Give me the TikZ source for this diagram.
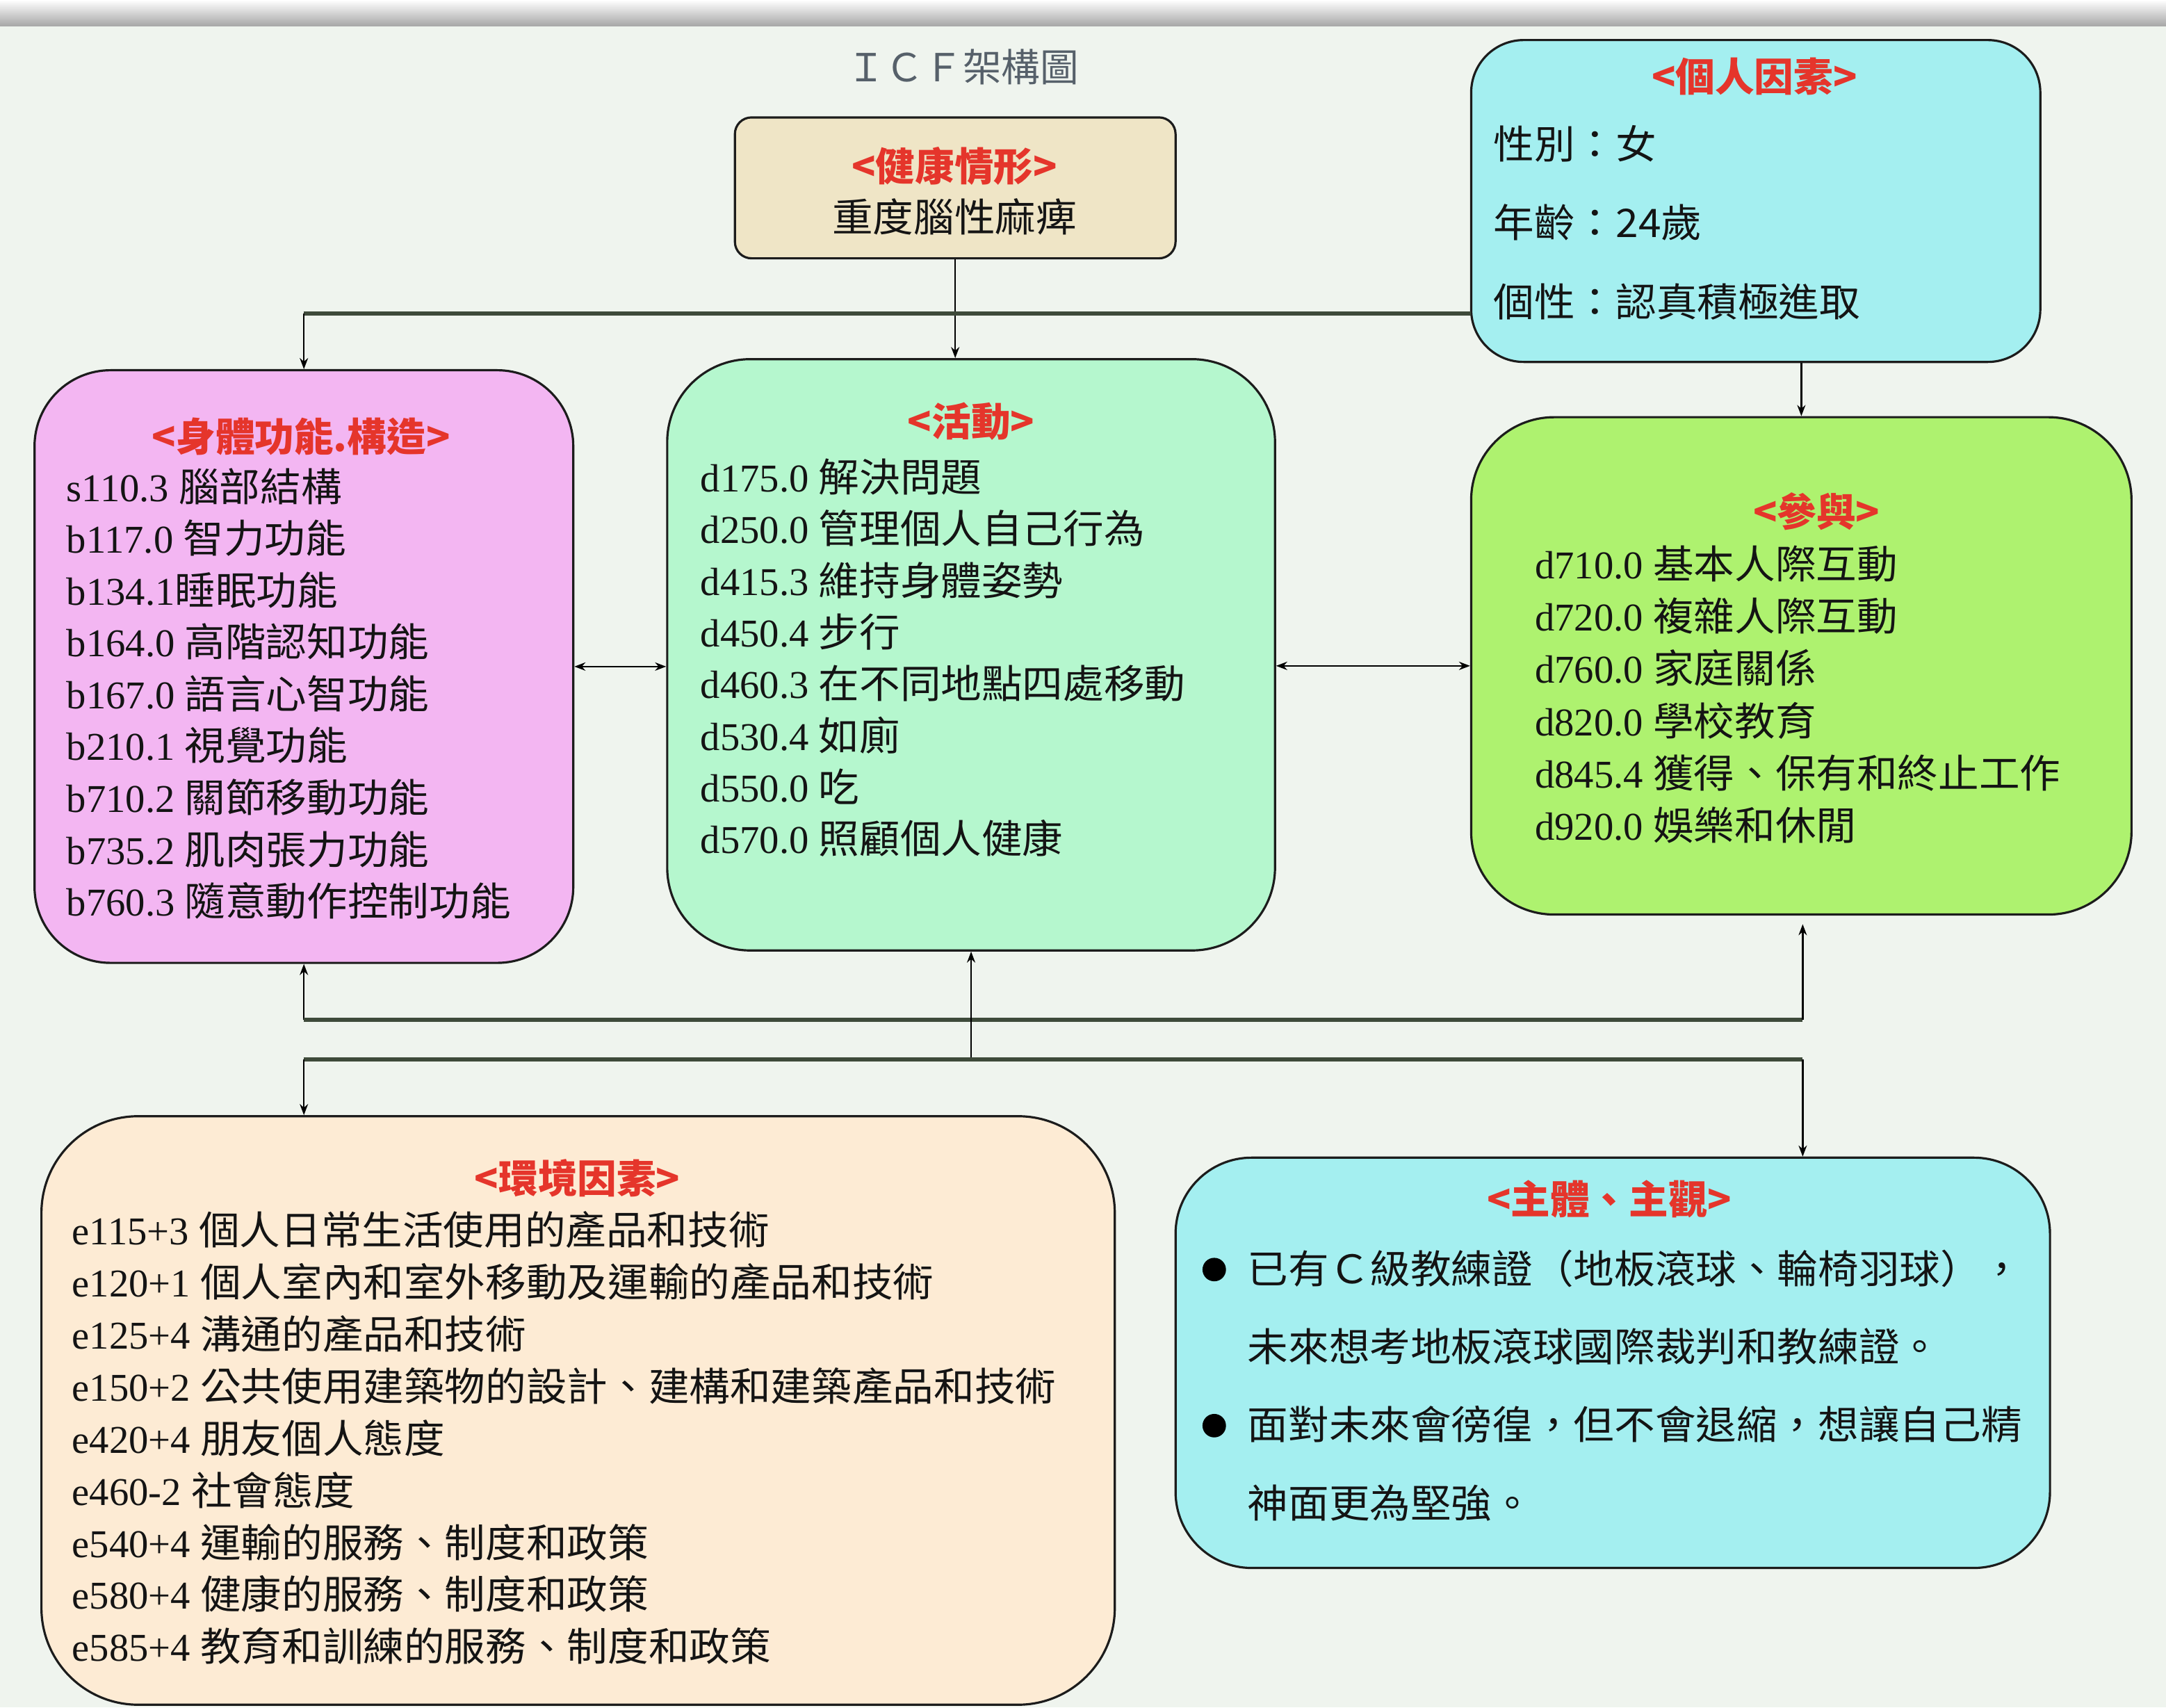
\documentclass[tikz,border=0pt]{standalone}
\usepackage{fontspec}
\setmainfont{Liberation Serif}
\newfontfamily\cjk[FakeStretch=1.035]{Noto Sans CJK TC}
\newfontfamily\cjkt{Noto Sans CJK TC}
\usetikzlibrary{arrows.meta}
\definecolor{bgc}{HTML}{EFF4EE}
\definecolor{boxline}{HTML}{1C1C1C}
\definecolor{ttlred}{HTML}{E5352B}
\definecolor{ttlgray}{HTML}{56606A}
\definecolor{txtc}{HTML}{141414}
\definecolor{busc}{HTML}{3E4A3A}
\definecolor{healthc}{HTML}{EFE5C6}
\definecolor{cyanc}{HTML}{A4EFF0}
\definecolor{pinkc}{HTML}{F3B6F2}
\definecolor{mintc}{HTML}{B5F7CE}
\definecolor{limec}{HTML}{AEF26F}
\definecolor{envc}{HTML}{FDEBD4}
\newcommand\cj[1]{{\cjk #1}}
\tikzset{
  box/.style={draw=boxline, line width=1.6pt, rectangle, inner sep=0pt},
  ttl/.style={anchor=base, inner sep=0pt, text=ttlred, font=\cjkt\bfseries\fontsize{28.5}{30}\selectfont},
  lst/.style={anchor=base west, inner sep=0pt, text=txtc, font=\fontsize{28.5}{30}\selectfont},
  conn/.style={draw=black, line width=1.3pt},
  bus/.style={draw=busc, line width=3pt},
  bullet/.style={circle, fill=black, minimum size=17pt, inner sep=0pt}
}
\begin{document}
\begin{tikzpicture}[x=1pt,y=1pt,>={Stealth[length=8pt,width=6pt]}]
\useasboundingbox (0,0) rectangle (1568,-1236);
\fill[bgc] (0,0) rectangle (1568,-1236);
\shade[top color=white, bottom color=gray!70] (0,0) rectangle (1568,-19);

% title
\node[anchor=base, inner sep=0pt, text=ttlgray, font=\cjkt\fontsize{28}{30}\selectfont] (title) at (697,-59) {ＩＣＦ架構圖};

% boxes
\node[box, fill=healthc, minimum width=319pt, minimum height=102pt, rounded corners=12pt] (health) at (691.5,-136) {};
\node[box, fill=cyanc, minimum width=412pt, minimum height=233pt, rounded corners=38pt] (pers) at (1271,-145.5) {};
\node[box, fill=pinkc, minimum width=390pt, minimum height=429pt, rounded corners=55pt] (body) at (220,-482.5) {};
\node[box, fill=mintc, minimum width=440pt, minimum height=428pt, rounded corners=60pt] (act) at (703,-474) {};
\node[box, fill=limec, minimum width=478pt, minimum height=360pt, rounded corners=60pt] (part) at (1304,-482) {};
\node[box, fill=envc, minimum width=777pt, minimum height=426pt, rounded corners=70pt] (env) at (418.5,-1021) {};
\node[box, fill=cyanc, minimum width=633pt, minimum height=297pt, rounded corners=55pt] (subj) at (1167.5,-986.5) {};

% health
\node[ttl] (healthT) at (691,-131) {<健康情形>};
\node[anchor=base, inner sep=0pt, text=txtc, font=\cjk\fontsize{28.5}{30}\selectfont] (healthL) at (691,-168) {重度腦性麻痺};

% personal
\node[ttl] (persT) at (1270,-66) {<個人因素>};
\foreach \t [count=\i] in {{性別：女},{年齡：24歲},{個性：認真積極進取}}
  \node[lst, font=\cjk\fontsize{28.5}{30}\selectfont] (persL\i) at (1081,{-115-57*(\i-1)}) {\t};

% body
\node[ttl] (bodyT) at (218,-327) {<身體功能.構造>};
\foreach \t [count=\i] in {
  {s110.3 \cj{腦部結構}},
  {b117.0 \cj{智力功能}},
  {b134.1\cj{睡眠功能}},
  {b164.0 \cj{高階認知功能}},
  {b167.0 \cj{語言心智功能}},
  {b210.1 \cj{視覺功能}},
  {b710.2 \cj{關節移動功能}},
  {b735.2 \cj{肌肉張力功能}},
  {b760.3 \cj{隨意動作控制功能}}}
  \node[lst] (bodyL\i) at (48,{-363-37.5*(\i-1)}) {\t};

% activity
\node[ttl] (actT) at (703,-316) {<活動>};
\foreach \t [count=\i] in {
  {d175.0 \cj{解決問題}},
  {d250.0 \cj{管理個人自己行為}},
  {d415.3 \cj{維持身體姿勢}},
  {d450.4 \cj{步行}},
  {d460.3 \cj{在不同地點四處移動}},
  {d530.4 \cj{如廁}},
  {d550.0 \cj{吃}},
  {d570.0 \cj{照顧個人健康}}}
  \node[lst] (actL\i) at (507,{-356-37.4*(\i-1)}) {\t};

% participation
\node[ttl] (partT) at (1315,-381) {<參與>};
\foreach \t [count=\i] in {
  {d710.0 \cj{基本人際互動}},
  {d720.0 \cj{複雜人際互動}},
  {d760.0 \cj{家庭關係}},
  {d820.0 \cj{學校教育}},
  {d845.4 \cj{獲得、保有和終止工作}},
  {d920.0 \cj{娛樂和休閒}}}
  \node[lst] (partL\i) at (1111,{-419-37.8*(\i-1)}) {\t};

% environment
\node[ttl] (envT) at (418,-864) {<環境因素>};
\foreach \t [count=\i] in {
  {e115+3 \cj{個人日常生活使用的產品和技術}},
  {e120+1 \cj{個人室內和室外移動及運輸的產品和技術}},
  {e125+4 \cj{溝通的產品和技術}},
  {e150+2 \cj{公共使用建築物的設計、建構和建築產品和技術}},
  {e420+4 \cj{朋友個人態度}},
  {e460-2 \cj{社會態度}},
  {e540+4 \cj{運輸的服務、制度和政策}},
  {e580+4 \cj{健康的服務、制度和政策}},
  {e585+4 \cj{教育和訓練的服務、制度和政策}}}
  \node[lst] (envL\i) at (52,{-901-37.7*(\i-1)}) {\t};

% subjective
\node[ttl] (subjT) at (1165,-879) {<主體、主觀>};
\node[bullet] (bul1) at (879,-919) {};
\node[bullet] (bul2) at (879,-1032) {};
\foreach \t [count=\i] in {
  {已有Ｃ級教練證（地板滾球、輪椅羽球），},
  {未來想考地板滾球國際裁判和教練證。},
  {面對未來會徬徨，但不會退縮，想讓自己精},
  {神面更為堅強。}}
  \node[lst, font=\cjk\fontsize{28.5}{30}\selectfont] (subjL\i) at (903,{-929-56.5*(\i-1)}) {\t};

% connectors
\coordinate (pj) at (1065,-227);
\coordinate (b1L) at (220,-738);
\coordinate (b1R) at (1305,-738);
\coordinate (b2L) at (220,-767);
\coordinate (b2R) at (1305,-767);
\coordinate (pgap) at (1305,-669);

\draw[conn,->] (health.south) -- (health.south |- act.north);
\draw[bus] (pj) -- (pj -| body.north);
\draw[conn,->] (pj -| body.north) -- (body.north);
\draw[conn,->] (pers.south -| part.north) -- (part.north);
\draw[conn,<->] (body.east) -- (body.east -| act.west);
\draw[conn,<->] (act.east |- part.west) -- (part.west);

\draw[conn,<-] (body.south) -- (b1L);
\draw[bus] (b1L) -- (b1R);
\draw[conn,->] (b1R) -- (pgap);

\draw[conn,<-] (act.south) -- (act.south |- b2L);
\draw[bus] (b2L) -- (b2R);
\draw[conn,->] (b2L) -- (env.north -| b2L);
\draw[conn,->] (b2R) -- (subj.north -| b2R);
\end{tikzpicture}
\end{document}
